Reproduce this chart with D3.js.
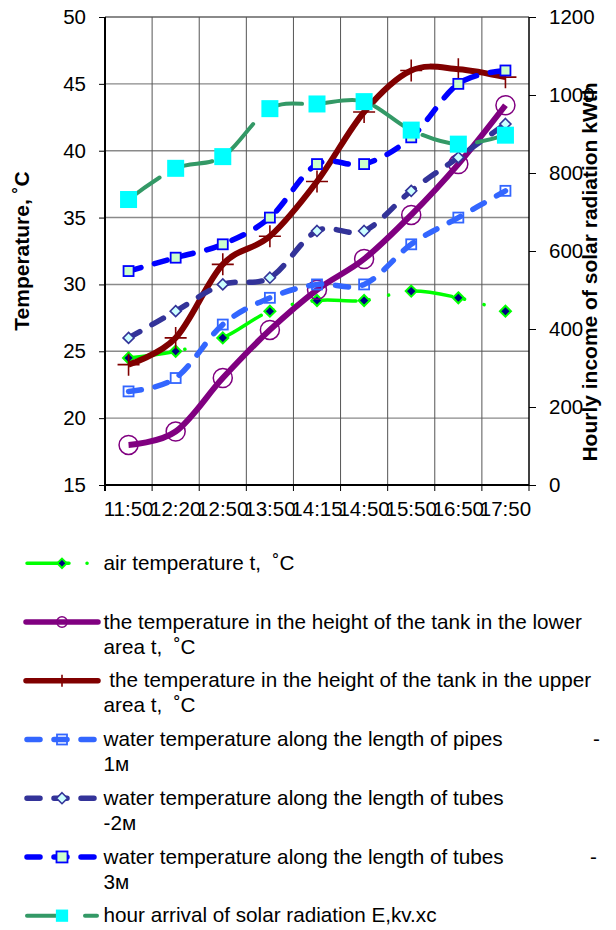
<!DOCTYPE html>
<html><head><meta charset="utf-8">
<script src="https://cdn.jsdelivr.net/npm/d3@7"></script>
<style>body{margin:0;background:#fff} svg{display:block;font-family:"Liberation Sans",Arial,sans-serif} text{white-space:pre}</style>
</head><body><svg id="c" width="616" height="930"></svg>
<script>
const categories = ["11:50","12:20","12:50","13:50","14:15","14:50","15:50","16:50","17:50"];
const airTemp   = [24.5,25.0,26.0,28.0,28.8,28.8,29.5,29.0,28.0];
const tankLower = [18.0,19.0,23.0,26.6,29.6,31.9,35.2,39.0,43.4];
const tankUpper = [24.0,26.0,31.5,33.6,37.7,42.9,46.0,46.1,45.5];
const pipes1m   = [22.0,23.0,27.0,29.0,30.0,30.0,33.0,35.0,37.0];
const tubes2m   = [26.0,28.0,30.0,30.5,34.0,34.0,37.0,39.5,42.0];
const tubes3m   = [31.0,32.0,33.0,35.0,39.0,39.0,41.0,45.0,46.0];
const solar     = [732,812,842,965,977,983,910,874,897];
const leftTicks = [15,20,25,30,35,40,45,50];
const rightTicks = [0,200,400,600,800,1000,1200];
const leftTitle = "Temperature, ˚C";
const rightTitle = "Hourly income of solar radiation kWth";
const legendLines = [
  ["air temperature t,  ˚C"],
  ["the temperature in the height of the tank in the lower","area t,  ˚C"],
  [" the temperature in the height of the tank in the upper","area t,  ˚C"],
  ["water temperature along the length of pipes","1м"],
  ["water temperature along the length of tubes","-2м"],
  ["water temperature along the length of tubes","3м"],
  ["hour arrival of solar radiation E,kv.xc"]
];
const legendDash = ["", "", "", "-", "", "-", ""];

const svg = d3.select("#c");
const L = 105, R = 529, T = 17, B = 485;
const x = d3.scaleBand().domain(categories).range([L, R]).padding(0);
const cx = c => x(c) + x.bandwidth() / 2;
const y = d3.scaleLinear().domain([15, 50]).range([B, T]);
const y2 = d3.scaleLinear().domain([0, 1200]).range([B, T]);

// grid
const grid = svg.append("g");
grid.selectAll("line.h").data(leftTicks.slice(1)).join("line")
  .attr("x1", L).attr("x2", R).attr("y1", d => y(d)).attr("y2", d => y(d))
  .attr("stroke", "#8a8a8a").attr("stroke-width", d => d === 50 ? 2 : 1.4);
grid.selectAll("line.v").data(categories.slice(1)).join("line")
  .attr("x1", d => x(d)).attr("x2", d => x(d)).attr("y1", T).attr("y2", B)
  .attr("stroke", "#555").attr("stroke-width", 1);

// axes
const fs = "20.5px";
const ax = svg.append("g");
const leftAxis = d3.axisLeft(y).tickValues(leftTicks).tickSize(6).tickPadding(13).tickFormat(d3.format("d"));
const gl = ax.append("g").attr("transform", `translate(${L},0)`).call(leftAxis);
const rightAxis = d3.axisRight(y2).tickValues(rightTicks).tickSize(7).tickPadding(13).tickFormat(d3.format("d"));
const gr = ax.append("g").attr("transform", `translate(${R},0)`).call(rightAxis);
const bottomAxis = d3.axisBottom(x).tickSize(0).tickPadding(16);
const gb = ax.append("g").attr("transform", `translate(0,${B})`).call(bottomAxis);
[gl, gr, gb].forEach(g => {
  g.selectAll("text").attr("font-size", fs).attr("fill", "#000").attr("font-family", '"Liberation Sans",Arial,sans-serif');
  g.selectAll("line").attr("stroke", "#000");
  g.select(".domain").attr("stroke", "#000");
});
gl.select(".domain").attr("stroke-width", 2).attr("d", `M0,${T}V${B+6}`);
gr.select(".domain").attr("stroke-width", 1.5).attr("d", `M0,${T}V${B}`);
gb.select(".domain").attr("stroke-width", 2).attr("d", `M${L},0H${R}`);
gb.selectAll(".tick text").attr("dy", "0.71em");
// bottom ticks at band boundaries
ax.append("g").selectAll("line").data(categories.concat(["end"])).join("line")
  .attr("x1", (d, i) => i < categories.length ? x(d) : R)
  .attr("x2", (d, i) => i < categories.length ? x(d) : R)
  .attr("y1", B).attr("y2", B + 6).attr("stroke", "#000").attr("stroke-width", 1);

// titles
svg.append("text").attr("transform", `translate(29,251) rotate(-90)`)
  .attr("text-anchor", "middle").attr("font-size", "21px").attr("font-weight", "bold").text(leftTitle);
svg.append("text").attr("transform", `translate(597,272) rotate(-90)`)
  .attr("text-anchor", "middle").attr("font-size", "21px").attr("font-weight", "bold").text(rightTitle);

// series
const smooth = d3.curveCatmullRom.alpha(0);
const series = [
  {vals: airTemp, sc: y, color: "#00ff00", w: 3.5, dash: "44,13,0.1,20,0.1,20", marker: "diamondAir"},
  {vals: tankLower, sc: y, color: "#800080", w: 6, dash: null, marker: "circle"},
  {vals: tankUpper, sc: y, color: "#800000", w: 6, dash: null, marker: "plus"},
  {vals: pipes1m, sc: y, color: "#3366ff", w: 5.5, dash: "13,14", marker: "squareOpen"},
  {vals: tubes2m, sc: y, color: "#333399", w: 5.5, dash: "13,14", marker: "diamond2"},
  {vals: tubes3m, sc: y, color: "#0000ff", w: 5.5, dash: "13,14", marker: "square3"},
  {vals: solar, sc: y2, color: "#339966", w: 4, dash: "38,18", marker: "solar"}
];

function marker(g, type, px, py, s) {
  s = s || 1;
  if (type === "diamondAir") {
    const h = 5.5 * s;
    g.append("path").attr("d", `M${px},${py-h}L${px+h},${py}L${px},${py+h}L${px-h},${py}Z`)
      .attr("fill", "#000080").attr("stroke", "#00ff00").attr("stroke-width", 2);
  } else if (type === "diamond2") {
    const h = 5.5 * s;
    g.append("path").attr("d", `M${px},${py-h}L${px+h},${py}L${px},${py+h}L${px-h},${py}Z`)
      .attr("fill", "#ccffff").attr("stroke", "#333399").attr("stroke-width", 1.6);
  } else if (type === "circle") {
    g.append("circle").attr("cx", px).attr("cy", py).attr("r", 9.5 * s)
      .attr("fill", "none").attr("stroke", "#800080").attr("stroke-width", 1.5);
  } else if (type === "plus") {
    const h = 11 * s;
    g.append("path").attr("d", `M${px-h},${py}H${px+h}M${px},${py-h}V${py+h}`)
      .attr("stroke", "#800000").attr("stroke-width", 1.6).attr("fill", "none");
  } else if (type === "squareOpen") {
    const h = 5 * s;
    g.append("rect").attr("x", px-h).attr("y", py-h).attr("width", 2*h).attr("height", 2*h)
      .attr("fill", "none").attr("stroke", "#3366ff").attr("stroke-width", 1.8);
  } else if (type === "square3") {
    const h = 5 * s;
    g.append("rect").attr("x", px-h).attr("y", py-h).attr("width", 2*h).attr("height", 2*h)
      .attr("fill", "#ccffcc").attr("stroke", "#0000ff").attr("stroke-width", 1.8);
  } else if (type === "solar") {
    const h = 8.5 * s;
    g.append("rect").attr("x", px-h).attr("y", py-h).attr("width", 2*h).attr("height", 2*h)
      .attr("fill", "#00ffff");
  }
}

const plot = svg.append("g");
series.forEach(sr => {
  const g = plot.append("g");
  const pts = sr.vals.map((v, i) => [cx(categories[i]), sr.sc(v)]);
  g.append("path").attr("d", d3.line().curve(smooth)(pts))
    .attr("fill", "none").attr("stroke", sr.color).attr("stroke-width", sr.w)
    .attr("stroke-linecap", sr.dash ? "round" : "butt").attr("stroke-linejoin", "round")
    .attr("stroke-dasharray", sr.dash);
  pts.forEach(p => marker(g, sr.marker, p[0], p[1]));
});

// legend
const lg = svg.append("g");
const legendY0 = 563.3, legendStep = 58.73;
series.forEach((sr, i) => {
  const ly = legendY0 + i * legendStep;
  const g = lg.append("g");
  let ldash;
  if (i === 0) ldash = "42,18,0.1,100";
  else if (i === 1 || i === 2) ldash = null;
  else if (i === 6) ldash = "38,20,13,100";
  else ldash = "13,14";
  const solid = (i === 1 || i === 2);
  g.append("line").attr("x1", solid ? 26 : 27).attr("x2", solid ? 98 : (i === 6 ? 97 : 96))
    .attr("y1", ly).attr("y2", ly)
    .attr("stroke", sr.color).attr("stroke-width", i === 0 ? 3.5 : (i === 6 ? 4 : 5.5))
    .attr("stroke-linecap", "round").attr("stroke-dasharray", ldash);
  const ms = {0: 0.85, 1: 0.55, 2: 0.55, 3: 1.0, 4: 1.0, 5: 1.1, 6: 0.72}[i];
  marker(g, sr.marker, 62, ly, ms);
  const t = g.append("text").attr("x", 103.5).attr("y", ly + 6.7).attr("font-size", "20.7px");
  legendLines[i].forEach((s, j) => {
    t.append("tspan").attr("x", 103.5).attr("dy", j === 0 ? 0 : 25).text(s);
  });
  if (legendDash[i]) {
    g.append("text").attr("x", i === 3 ? 593 : 590).attr("y", ly + 6.7).attr("font-size", "20.7px").text(legendDash[i]);
  }
});
</script></body></html>
